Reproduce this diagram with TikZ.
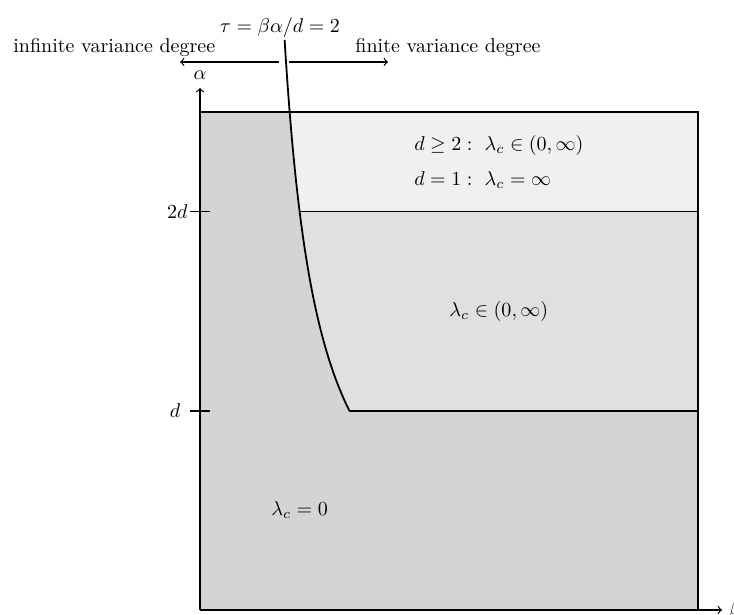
\documentclass[tikz,border=0pt]{standalone}
\begin{document}
\begin{tikzpicture}[
  x=1.75cm, y=1.75cm,
  edge/.style={draw=black, line width=0.75pt},
  crit/.style={draw=black, line width=0.9pt},
  axis/.style={draw=black, line width=0.6pt, ->},
  lbl/.style={inner sep=0pt, anchor=base}
]
\colorlet{Czero}{black!17}
\colorlet{Cmid}{black!12}
\colorlet{Cfin}{black!6}
\def\top{5}
\def\right{5}
\def\tick{0.1}
\useasboundingbox (-2.008,-0.050) rectangle (5.361,6.124);
%% REGIONS
\fill[Czero] (0,0) rectangle (\right,\top);
\fill[Cfin] plot[domain=4:5, samples=30] ({0.5+2/\x},\x) -- (\right,\top) -- (\right,4) -- cycle;
\fill[Cmid] plot[domain=2:4, samples=40] ({0.5+2/\x},\x) -- (\right,4) -- (\right,2) -- cycle;
%% CORNERS AND LEVELS
\coordinate (O)  at (0,0);
\coordinate (TL) at (0,\top);
\coordinate (TR) at (\right,\top);
\coordinate (BR) at (\right,0);
\coordinate (C2) at (1,4);
\coordinate (R2) at (\right,4);
\coordinate (C1) at (1.5,2);
\coordinate (R1) at (\right,2);
\coordinate (Xend) at (5.241,0);
\coordinate (Yend) at (0,5.241);
%% BOX AND BORDERS
\draw[edge] (TL) -- (TR) -- (BR);
\draw[edge] (C2) -- (R2);
\draw[edge] (C1) -- (R1);
\draw[crit] plot[domain=2:5.723, samples=80] ({0.5+2/\x},\x);
%% AXES
\draw[axis] (O) -- (Xend);
\draw[axis] (O) -- (Yend);
\node[anchor=west] (blab) at (Xend) {$\beta$};
\node (alab) at (0,5.373) {$\alpha$};
%% TICKS
\coordinate (T2l) at (-\tick,4);
\coordinate (T2r) at (\tick,4);
\coordinate (T1l) at (-\tick,2);
\coordinate (T1r) at (\tick,2);
\draw[edge] (T2l) -- (T2r);
\draw[edge] (T1l) -- (T1r);
\node[anchor=east, inner sep=1pt] (l2d) at (T2l) {$2d$};
\node (l1d) at (-0.251,2) {$d$};
%% TOP LABELS
\node[lbl] (tau) at (0.803,5.793) {$\tau=\beta\alpha/d=2$};
\node[lbl] (inf) at (-0.861,5.592) {infinite variance degree};
\node[lbl] (fin) at (2.490,5.592) {finite variance degree};
\coordinate (ArL0) at (0.793,5.502);
\coordinate (ArL1) at (-0.201,5.502);
\coordinate (ArR0) at (0.894,5.502);
\coordinate (ArR1) at (1.888,5.502);
\draw[axis] (ArL0) -- (ArL1);
\draw[axis] (ArR0) -- (ArR1);
%% REGION LABELS
\node[align=left] (ltop) at (3,4.50) {$d\geq 2:\ \lambda_c\in(0,\infty)$\\[5.5pt]$d=1:\ \lambda_c=\infty$};
\node (lmid) at (3,3) {$\lambda_c\in(0,\infty)$};
\node (lzero) at (1,1) {$\lambda_c=0$};
\end{tikzpicture}
\end{document}
